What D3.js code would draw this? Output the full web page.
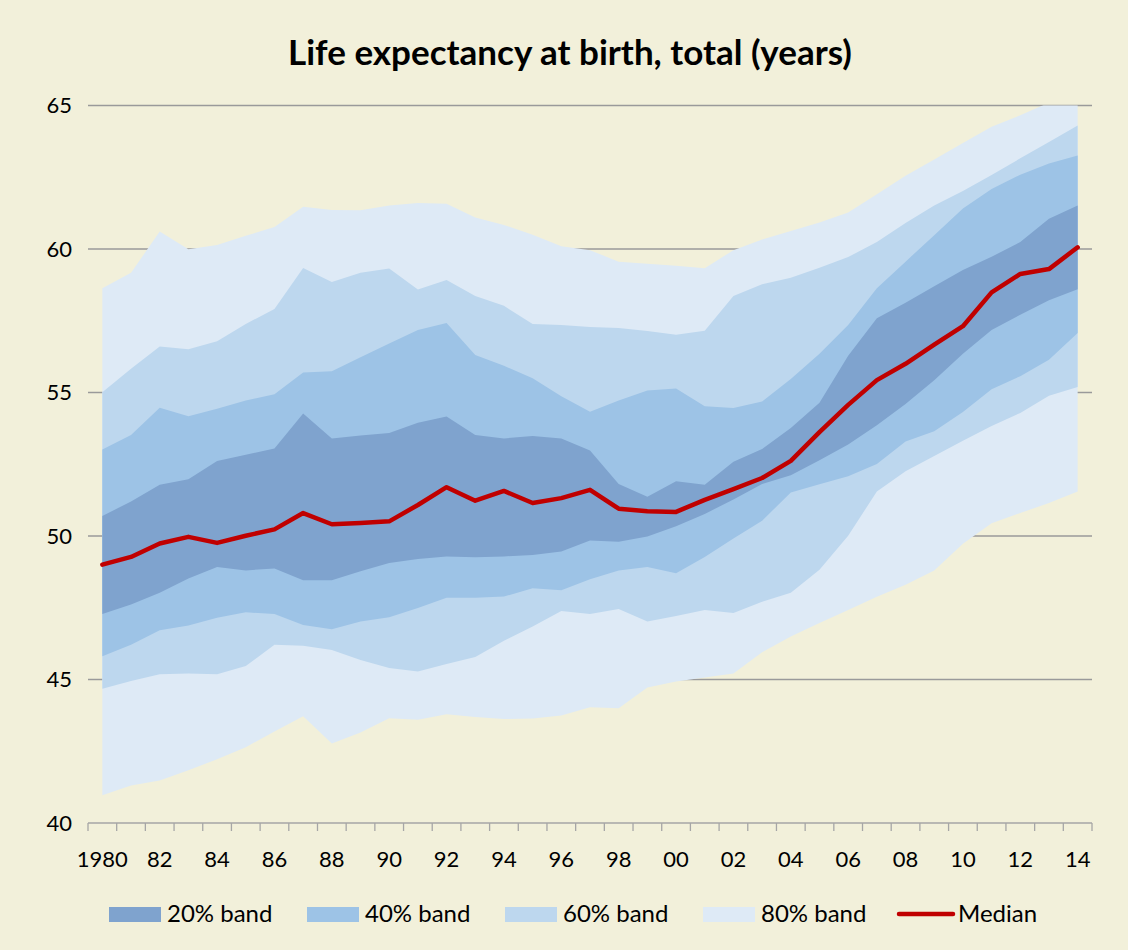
<!DOCTYPE html>
<html>
<head>
<meta charset="utf-8">
<script src="https://cdn.jsdelivr.net/npm/d3@7"></script>
<style>
  html, body { margin: 0; padding: 0; background: #ffffff; }
  svg { display: block; }
  text { font-family: Lato, "Open Sans", sans-serif; fill: #000; }
</style>
</head>
<body>
<svg id="chart" width="1128" height="950"></svg>
<script>
// ---------- DATA ----------
const years = d3.range(1980, 2015);
const tickLabels = ["1980","82","84","86","88","90","92","94","96","98","00","02","04","06","08","10","12","14"];
const yTicks = [40, 45, 50, 55, 60, 65];

// band boundaries (percentiles)
const p90 = [58.63,59.17,60.61,59.99,60.14,60.46,60.77,61.47,61.36,61.35,61.52,61.60,61.58,61.10,60.84,60.50,60.10,59.96,59.56,59.49,59.42,59.33,59.96,60.33,60.63,60.92,61.27,61.91,62.55,63.12,63.69,64.26,64.66,65.10,65.60];
const p80 = [55.01,55.83,56.60,56.51,56.79,57.39,57.91,59.34,58.85,59.17,59.32,58.59,58.92,58.36,58.02,57.39,57.35,57.28,57.25,57.14,57.01,57.15,58.36,58.77,59.00,59.35,59.72,60.24,60.91,61.52,62.02,62.58,63.16,63.73,64.30];
const p70 = [53.01,53.52,54.47,54.17,54.43,54.72,54.94,55.70,55.74,56.23,56.71,57.18,57.42,56.31,55.93,55.50,54.87,54.33,54.72,55.07,55.14,54.52,54.46,54.69,55.47,56.35,57.35,58.63,59.56,60.48,61.41,62.09,62.59,62.98,63.26];
const p60 = [50.70,51.20,51.79,51.98,52.61,52.83,53.05,54.27,53.40,53.50,53.59,53.95,54.16,53.52,53.40,53.48,53.40,52.98,51.81,51.37,51.91,51.79,52.59,53.03,53.76,54.64,56.28,57.59,58.13,58.70,59.27,59.73,60.24,61.05,61.52];
const median = [49.00,49.27,49.74,49.97,49.76,50.01,50.23,50.80,50.41,50.45,50.51,51.08,51.70,51.23,51.57,51.15,51.32,51.61,50.95,50.86,50.84,51.26,51.63,52.02,52.62,53.62,54.57,55.43,56.00,56.67,57.31,58.49,59.13,59.30,60.06];
const p40 = [47.28,47.61,48.02,48.52,48.92,48.80,48.87,48.46,48.46,48.77,49.06,49.20,49.29,49.26,49.29,49.34,49.46,49.84,49.80,49.98,50.34,50.77,51.27,51.81,52.12,52.64,53.19,53.86,54.60,55.43,56.35,57.18,57.71,58.21,58.60];
const p30 = [45.81,46.21,46.72,46.88,47.15,47.34,47.28,46.90,46.75,47.02,47.17,47.49,47.85,47.85,47.89,48.18,48.11,48.49,48.80,48.92,48.70,49.27,49.91,50.53,51.52,51.80,52.08,52.51,53.29,53.65,54.32,55.11,55.57,56.14,57.07];
const p20 = [44.68,44.95,45.18,45.21,45.18,45.47,46.21,46.18,46.03,45.68,45.40,45.28,45.54,45.78,46.35,46.85,47.39,47.28,47.46,47.02,47.21,47.42,47.32,47.71,48.02,48.82,50.01,51.55,52.26,52.79,53.32,53.83,54.29,54.89,55.19];
const p10 = [40.97,41.31,41.48,41.84,42.22,42.64,43.19,43.72,42.77,43.15,43.65,43.60,43.79,43.69,43.62,43.64,43.75,44.03,44.00,44.72,44.93,45.07,45.21,45.95,46.50,46.97,47.42,47.88,48.30,48.80,49.73,50.44,50.80,51.15,51.55];

const bandNames = ["20% band", "40% band", "60% band", "80% band"];
const bandColors = ["#7FA3CE", "#9DC3E6", "#BDD7EE", "#DEEAF6"];
const medianName = "Median";
const medianColor = "#C00000";
const title = "Life expectancy at birth, total (years)";

// ---------- LAYOUT ----------
const W = 1128, H = 950;
const plot = { left: 88, right: 1092, top: 105.5, bottom: 823 };

const svg = d3.select("#chart");
svg.append("rect").attr("x", 0).attr("y", 0).attr("width", W).attr("height", H).attr("fill", "#F2F0DA");

const x = d3.scaleBand().domain(years).range([plot.left, plot.right]).padding(0);
const xc = d => x(d) + x.bandwidth() / 2;
const y = d3.scaleLinear().domain([40, 65]).range([plot.bottom, plot.top]);

svg.append("defs").append("clipPath").attr("id", "clip")
  .append("rect").attr("x", plot.left).attr("y", plot.top)
  .attr("width", plot.right - plot.left).attr("height", plot.bottom - plot.top);

// gridlines
svg.append("g").selectAll("line").data(yTicks.filter(t => t > 40)).join("line")
  .attr("x1", plot.left).attr("x2", plot.right)
  .attr("y1", d => y(d)).attr("y2", d => y(d))
  .attr("stroke", "#9A9A9A").attr("stroke-width", 1.3);

// bands (outermost first)
const bands = [
  { lo: p10, hi: p90, color: bandColors[3] },
  { lo: p20, hi: p80, color: bandColors[2] },
  { lo: p30, hi: p70, color: bandColors[1] },
  { lo: p40, hi: p60, color: bandColors[0] }
];
const gBands = svg.append("g").attr("clip-path", "url(#clip)");
bands.forEach(b => {
  const area = d3.area()
    .x((d, i) => xc(years[i]))
    .y0((d, i) => y(b.lo[i]))
    .y1((d, i) => y(b.hi[i]));
  gBands.append("path").datum(years).attr("d", area).attr("fill", b.color);
});

// median
const line = d3.line().x((d, i) => xc(years[i])).y(d => y(d));
svg.append("path").datum(median).attr("d", line)
  .attr("fill", "none").attr("stroke", medianColor).attr("stroke-width", 4.5)
  .attr("stroke-linejoin", "round").attr("stroke-linecap", "round");

// x axis
const xAxisG = svg.append("g");
xAxisG.append("line").attr("x1", plot.left).attr("x2", plot.right)
  .attr("y1", plot.bottom).attr("y2", plot.bottom)
  .attr("stroke", "#A6A6A6").attr("stroke-width", 1.5);
const boundaries = years.map(d => x(d)).concat([plot.right]);
xAxisG.selectAll("line.tick").data(boundaries).join("line").attr("class", "tick")
  .attr("x1", d => d).attr("x2", d => d)
  .attr("y1", plot.bottom).attr("y2", plot.bottom + 8)
  .attr("stroke", "#A6A6A6").attr("stroke-width", 1.3);
const labelYears = years.filter((d, i) => i % 2 === 0);
xAxisG.selectAll("text").data(labelYears).join("text")
  .attr("x", d => xc(d)).attr("y", 867)
  .attr("text-anchor", "middle").attr("font-size", 22)
  .text((d, i) => tickLabels[i]);

// y labels
svg.append("g").selectAll("text").data(yTicks).join("text")
  .attr("x", 72).attr("y", d => y(d)).attr("dy", "0.36em")
  .attr("text-anchor", "end").attr("font-size", 22)
  .text(d => d);

// title
svg.append("text").attr("x", 570).attr("y", 65).attr("text-anchor", "middle")
  .attr("font-size", 35).attr("font-weight", "bold").text(title);

// legend
const legendItems = [
  { name: bandNames[0], color: bandColors[0], x: 109 },
  { name: bandNames[1], color: bandColors[1], x: 307 },
  { name: bandNames[2], color: bandColors[2], x: 505 },
  { name: bandNames[3], color: bandColors[3], x: 703 }
];
const lg = svg.append("g");
legendItems.forEach(it => {
  lg.append("rect").attr("x", it.x).attr("y", 907).attr("width", 52).attr("height", 15).attr("fill", it.color);
  lg.append("text").attr("x", it.x + 58).attr("y", 922).attr("font-size", 24).text(it.name);
});
lg.append("line").attr("x1", 899).attr("x2", 953).attr("y1", 914).attr("y2", 914)
  .attr("stroke", medianColor).attr("stroke-width", 4.5).attr("stroke-linecap", "round");
lg.append("text").attr("x", 958).attr("y", 922).attr("font-size", 24).text(medianName);
</script>
</body>
</html>
